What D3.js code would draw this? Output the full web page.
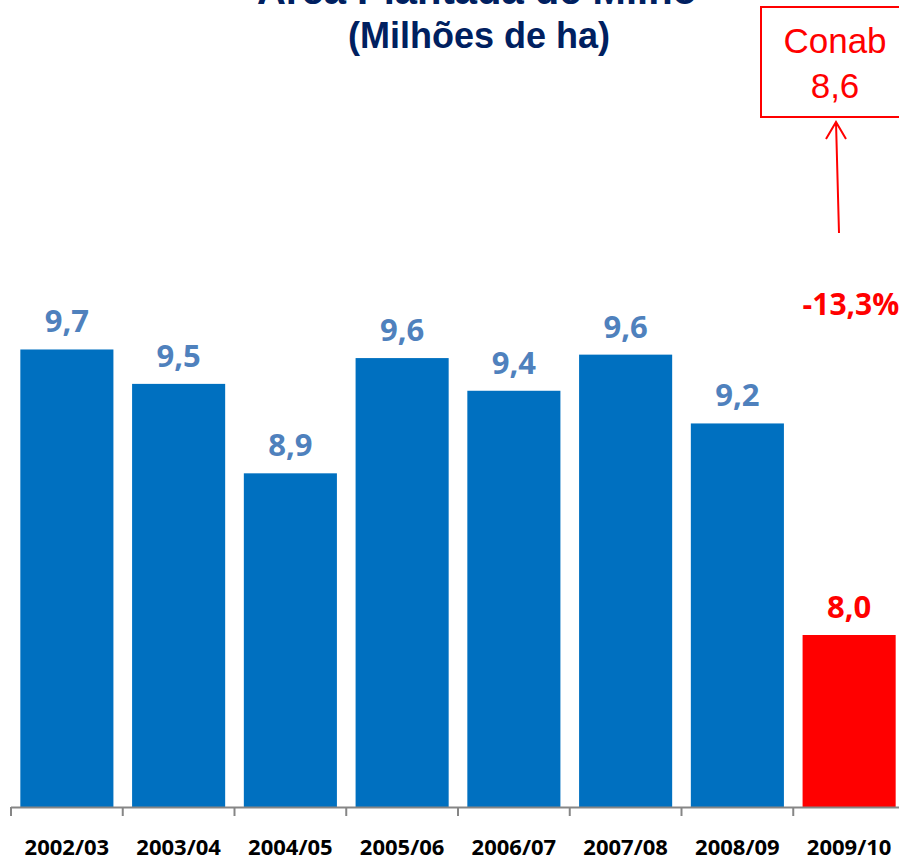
<!DOCTYPE html>
<html>
<head>
<meta charset="utf-8">
<script src="https://cdn.jsdelivr.net/npm/d3@7"></script>
<style>
    body { margin: 0; background: #fff; }
    svg { display: block; }
</style>
</head>
<body>
<svg id="chart"></svg>
<script>
const safras = ['2002/03', '2003/04', '2004/05', '2005/06', '2006/07', '2007/08', '2008/09', '2009/10']
const area = [9.66, 9.46, 8.94, 9.61, 9.42, 9.63, 9.23, 8.0]
const titleLines = ['Área Plantada de Milho', '(Milhões de ha)']
const conabLabel = 'Conab'
const conabValue = 8.6

const width = 899
const height = 862
const axisY = 807

const svg = d3
    .select('#chart')
    .attr('width', width)
    .attr('height', height)

const fmt = (v) => d3.format('.1f')(v).replace('.', ',')

const xScale = d3
    .scaleBand()
    .domain(safras)
    .range([11, 905])
    .paddingInner(0.167)
    .paddingOuter(0.0835)

const yScale = d3
    .scaleLinear()
    .domain([7, 11.5])
    .range([axisY, 33])

// titulo (primeira linha fica cortada no topo, como no original)
svg.append('text')
    .attr('x', 477)
    .attr('y', 4)
    .attr('text-anchor', 'middle')
    .style('font-family', 'Liberation Sans, Arial, sans-serif')
    .style('font-weight', 'bold')
    .style('font-size', '40px')
    .style('fill', '#002060')
    .text(titleLines[0])

svg.append('text')
    .attr('x', 479)
    .attr('y', 48)
    .attr('text-anchor', 'middle')
    .style('font-family', 'Liberation Sans, Arial, sans-serif')
    .style('font-weight', 'bold')
    .style('font-size', '36px')
    .style('fill', '#002060')
    .text(titleLines[1])

const data = safras.map((s, i) => ({ safra: s, value: area[i], last: i === safras.length - 1 }))

svg.selectAll('rect.bar')
    .data(data)
    .enter()
    .append('rect')
    .attr('class', 'bar')
    .attr('x', (d) => xScale(d.safra))
    .attr('y', (d) => yScale(d.value))
    .attr('width', xScale.bandwidth())
    .attr('height', (d) => axisY - yScale(d.value))
    .style('fill', (d) => (d.last ? '#FF0000' : '#0070C0'))

svg.selectAll('text.val')
    .data(data)
    .enter()
    .append('text')
    .attr('class', 'val')
    .attr('x', (d) => xScale(d.safra) + xScale.bandwidth() / 2)
    .attr('y', (d) => yScale(d.value) - 17)
    .attr('text-anchor', 'middle')
    .style('font-family', 'Open Sans, sans-serif')
    .style('font-weight', 'bold')
    .style('font-size', '31px')
    .style('fill', (d) => (d.last ? '#FF0000' : '#4F81BD'))
    .text((d) => fmt(d.value))

// eixo x
const xAxis = svg.append('g')
    .attr('transform', 'translate(0,' + axisY + ')')
    .call(d3.axisBottom(xScale).tickSize(0).tickPadding(32))

xAxis.select('.domain').remove()
xAxis.selectAll('text')
    .style('font-family', 'Open Sans, sans-serif')
    .style('font-weight', 'bold')
    .style('font-size', '22px')
    .style('fill', '#000')

svg.append('line')
    .attr('x1', xScale.range()[0])
    .attr('x2', xScale.range()[1])
    .attr('y1', axisY + 0.5)
    .attr('y2', axisY + 0.5)
    .style('stroke', '#868686')
    .style('stroke-width', 2)

svg.selectAll('line.sep')
    .data(d3.range(safras.length + 1))
    .enter()
    .append('line')
    .attr('class', 'sep')
    .attr('x1', (i) => xScale.range()[0] + i * xScale.step())
    .attr('x2', (i) => xScale.range()[0] + i * xScale.step())
    .attr('y1', axisY)
    .attr('y2', axisY + 9)
    .style('stroke', '#868686')
    .style('stroke-width', 2)

// variacao e Conab
const n = area.length
const change = area[n - 1] / area[n - 2] - 1

svg.append('text')
    .attr('x', xScale(safras[n - 1]))
    .attr('y', 315)
    .style('font-family', 'Open Sans, sans-serif')
    .style('font-weight', 'bold')
    .style('font-size', '30px')
    .style('fill', '#FF0000')
    .text(d3.format('.1f')(change * 100).replace('.', ',').replace('−', '-') + '%')

svg.append('rect')
    .attr('x', 761)
    .attr('y', 7)
    .attr('width', 140)
    .attr('height', 110)
    .style('fill', 'none')
    .style('stroke', '#FF0000')
    .style('stroke-width', 2)

svg.append('text')
    .attr('x', 835)
    .attr('y', 53)
    .attr('text-anchor', 'middle')
    .style('font-family', 'Liberation Sans, Arial, sans-serif')
    .style('font-size', '35px')
    .style('fill', '#FF0000')
    .text(conabLabel)

svg.append('text')
    .attr('x', 835)
    .attr('y', 98)
    .attr('text-anchor', 'middle')
    .style('font-family', 'Liberation Sans, Arial, sans-serif')
    .style('font-size', '35px')
    .style('fill', '#FF0000')
    .text(fmt(conabValue))

svg.append('path')
    .attr('d', 'M839,233 L836,122 M826,139 L836,122 L846,139')
    .style('fill', 'none')
    .style('stroke', '#FF0000')
    .style('stroke-width', 2)
</script>
</body>
</html>
